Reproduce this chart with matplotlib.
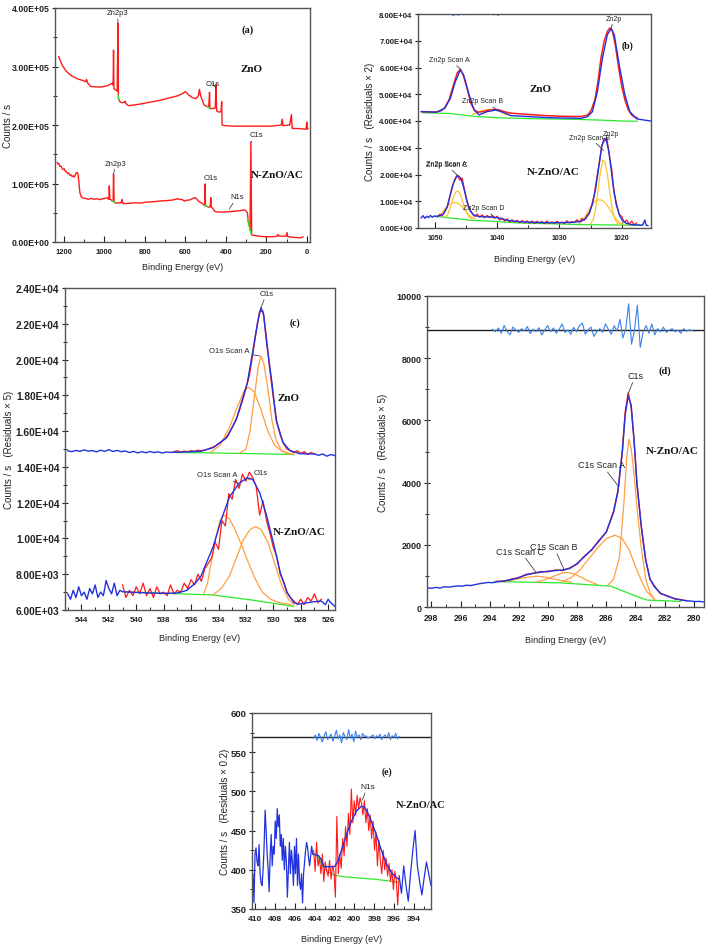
import numpy as np
import matplotlib
matplotlib.use('Agg')
import matplotlib.pyplot as plt
from matplotlib.ticker import FormatStrFormatter, MultipleLocator

SANS = ['Liberation Sans', 'DejaVu Sans']
SERIF = ['Liberation Serif', 'DejaVu Serif']
plt.rcParams['font.family'] = SANS
plt.rcParams['font.weight'] = 'bold'

RED = '#ff1a1a'
BLUE = '#2233dd'
GREEN = '#2ee82e'
ORANGE = '#ffa040'
YELLOW = '#ffc22e'
RESID = '#3b82e8'

# ---------------- (a) survey ----------------
zno_sv_ev = [1226, 1208, 1189, 1162, 1134, 1106, 1093, 1088, 1083, 1069,
             1042, 1014, 987, 968, 961, 957, 955, 953, 945, 937,
             933, 931, 924, 913, 902, 898, 895, 881, 858, 821,
             775, 729, 683, 637, 614, 600, 586, 568, 549, 536,
             531, 525, 517, 508, 494, 485, 481, 479, 467, 453,
             449, 446, 434, 424, 421, 419, 407, 361, 269, 177,
             126, 122, 118, 85, 77, 73, 48, 11, 4, 1,
             -2, -5]
zno_sv_cps = [3.17, 3.02, 2.92, 2.84, 2.79, 2.76, 2.74, 2.78, 2.72, 2.66,
              2.65, 2.65, 2.67, 2.70, 2.72, 2.68, 3.28, 2.62, 2.60, 2.58,
              3.74, 2.45, 2.40, 2.38, 2.39, 2.41, 2.37, 2.33, 2.34, 2.36,
              2.39, 2.42, 2.46, 2.50, 2.54, 2.57, 2.52, 2.47, 2.45, 2.50,
              2.61, 2.50, 2.43, 2.34, 2.32, 2.30, 2.56, 2.28, 2.28, 2.29,
              2.69, 2.24, 2.22, 2.23, 2.40, 2.00, 1.99, 1.98, 1.98, 1.98,
              2.00, 2.10, 1.99, 2.00, 2.18, 1.94, 1.94, 1.93, 1.93, 2.05,
              1.93, 1.94]
nac_sv_ev = [1233, 1229, 1224, 1220, 1215, 1209, 1204, 1198, 1193, 1187,
             1182, 1176, 1171, 1165, 1160, 1154, 1149, 1143, 1139, 1134,
             1130, 1127, 1121, 1114, 1105, 1093, 1079, 1065, 1051, 1037,
             1024, 1010, 996, 987, 982, 978, 976, 973, 968, 961,
             957, 955, 952, 945, 936, 927, 918, 913, 909, 899,
             886, 867, 844, 821, 798, 775, 752, 729, 706, 683,
             660, 637, 628, 619, 605, 591, 577, 563, 554, 545,
             536, 527, 517, 510, 505, 503, 501, 494, 485, 478,
             475, 472, 464, 457, 448, 434, 416, 398, 379, 361,
             342, 324, 310, 304, 299, 294, 290, 285, 281, 277,
             273, 267, 255, 241, 223, 209, 190, 172, 154, 147,
             142, 138, 121, 103, 98, 95, 80, 66, 48, 34,
             25, 20]
nac_sv_cps = [1.36, 1.33, 1.34, 1.29, 1.30, 1.26, 1.24, 1.25, 1.21, 1.20,
              1.17, 1.18, 1.14, 1.15, 1.12, 1.13, 1.11, 1.15, 1.18, 1.19,
              1.16, 1.05, 0.84, 0.77, 0.75, 0.745, 0.73, 0.745, 0.73, 0.74,
              0.725, 0.74, 0.745, 0.76, 0.74, 0.73, 0.96, 0.73, 0.725, 0.70,
              0.71, 1.16, 0.68, 0.665, 0.67, 0.665, 0.67, 0.73, 0.66, 0.655,
              0.66, 0.665, 0.67, 0.665, 0.68, 0.685, 0.69, 0.70, 0.705, 0.71,
              0.72, 0.74, 0.725, 0.73, 0.70, 0.715, 0.72, 0.745, 0.76, 0.74,
              0.70, 0.68, 0.66, 0.64, 0.62, 0.99, 0.62, 0.61, 0.595, 0.60,
              0.76, 0.60, 0.57, 0.53, 0.515, 0.515, 0.51, 0.515, 0.52, 0.525,
              0.53, 0.54, 0.55, 0.54, 0.52, 0.50, 0.36, 0.28, 0.20, 1.71,
              0.12, 0.115, 0.11, 0.10, 0.095, 0.09, 0.09, 0.09, 0.095, 0.10,
              0.13, 0.10, 0.10, 0.10, 0.16, 0.09, 0.085, 0.08, 0.075, 0.07,
              0.08, 0.09]
# short green background bits under the marked peaks
sv_bg_ev = [[931, 929], [490, 479], [959, 951], [504, 490], [294, 275]]
sv_bg_cps = [[2.50, 2.44], [2.31, 2.28], [0.70, 0.68], [0.63, 0.605], [0.40, 0.13]]

# ---------------- (b) Zn2p ----------------
zn_zno_red_ev = [1052, 1050, 1049, 1048.4, 1047.7, 1047, 1046.4, 1045.9, 1045.4, 1044.8,
                 1044.2, 1043.6, 1043, 1042.3, 1041.5, 1040.6, 1039.7, 1039, 1038, 1036,
                 1034, 1032, 1030, 1028, 1026.5, 1025.5, 1024.9, 1024.3, 1023.8, 1023.3,
                 1022.8, 1022.3, 1021.9, 1021.5, 1021.0, 1020.5, 1020.0, 1019.5, 1019.0, 1018.5,
                 1018, 1017.5]
zn_zno_red = [4.35, 4.33, 4.38, 4.50, 4.80, 5.35, 5.80, 5.93, 5.70, 5.20,
              4.65, 4.40, 4.33, 4.35, 4.40, 4.43, 4.42, 4.36, 4.30, 4.26,
              4.23, 4.20, 4.18, 4.17, 4.17, 4.22, 4.40, 4.80, 5.50, 6.40,
              7.00, 7.35, 7.48, 7.38, 6.80, 6.00, 5.30, 4.80, 4.45, 4.25,
              4.15, 4.12]
zn_zno_fit_ev = [1052.2, 1049.7, 1048.4, 1047.5, 1046.7, 1045.9, 1045.4, 1044.5, 1043.7, 1042.9,
                 1041.6, 1040.2, 1039.1, 1037.8, 1031.2, 1026.5, 1025.5, 1024.7, 1023.9, 1023.1,
                 1022.3, 1021.7, 1021.2, 1020.4, 1019.5, 1018.7, 1017.6, 1015.4]
zn_zno_fit = [4.35, 4.33, 4.48, 4.85, 5.48, 5.91, 5.73, 4.98, 4.41, 4.23,
              4.35, 4.41, 4.33, 4.20, 4.12, 4.10, 4.16, 4.35, 5.10, 6.35,
              7.23, 7.45, 7.23, 6.10, 4.98, 4.35, 4.08, 4.00]
zn_zno_scanb_ev = [1044.0, 1043.3, 1042.5, 1041.5, 1040.5, 1039.5, 1038.5]
zn_zno_scanb = [4.25, 4.30, 4.38, 4.42, 4.43, 4.35, 4.22]
zn_zno_bg_ev = [1052, 1047.5, 1044, 1040, 1035, 1027, 1023, 1020, 1017.5]
zn_zno_bg = [4.31, 4.28, 4.18, 4.12, 4.09, 4.06, 4.03, 4.00, 3.99]

zn_nac_red_ev = [1049.6, 1049.2, 1048.8, 1048.4, 1048.0, 1047.6, 1047.2, 1046.8, 1046.4, 1046.0,
                 1045.6, 1045.2, 1044.8, 1044.4, 1044.0, 1043.6, 1043.2, 1042.8, 1042.4, 1042.0,
                 1041.6, 1041.2, 1040.8, 1040.4, 1040.0, 1039.6, 1039.2, 1038.8, 1038.4, 1038.0,
                 1037.6, 1037.2, 1036.8, 1036.4, 1036.0, 1035.6, 1035.2, 1034.8, 1034.4, 1034.0,
                 1033.6, 1033.2, 1032.8, 1032.4, 1032.0, 1031.6, 1031.2, 1030.8, 1030.4, 1030.0,
                 1029.6, 1029.2, 1028.8, 1028.4, 1028.0, 1027.6, 1027.2, 1026.8, 1026.4, 1026.0,
                 1025.6, 1025.2, 1024.8, 1024.4, 1024.0, 1023.6, 1023.2, 1022.8, 1022.4, 1022.0,
                 1021.6, 1021.2, 1020.8, 1020.4, 1020.0, 1019.6, 1019.2, 1018.8, 1018.4, 1018.0,
                 1017.6]
zn_nac_red = [0.42, 0.51, 0.46, 0.63, 0.78, 1.18, 1.56, 1.82, 1.98, 1.79,
              1.86, 1.38, 0.99, 0.68, 0.56, 0.43, 0.52, 0.40, 0.49, 0.38,
              0.47, 0.39, 0.46, 0.36, 0.44, 0.30, 0.37, 0.26, 0.34, 0.23,
              0.31, 0.22, 0.29, 0.20, 0.28, 0.19, 0.27, 0.18, 0.26, 0.17,
              0.25, 0.19, 0.24, 0.16, 0.26, 0.18, 0.23, 0.17, 0.25, 0.19,
              0.22, 0.16, 0.27, 0.19, 0.24, 0.20, 0.31, 0.22, 0.36, 0.29,
              0.46, 0.58, 0.87, 1.25, 1.88, 2.45, 3.10, 3.25, 3.38, 2.75,
              2.18, 1.30, 0.88, 0.51, 0.43, 0.21, 0.30, 0.14, 0.26, 0.12,
              0.19]
zn_nac_fit_ev = [1052.2, 1051.9, 1051.6, 1051.3, 1051.0, 1050.7, 1050.4, 1050.1, 1049.8, 1049.5,
                 1049.0, 1048.5, 1048.0, 1047.5, 1047.0, 1046.5, 1046.2, 1045.8, 1045.3, 1044.8,
                 1044.3, 1043.8, 1043.0, 1042.0, 1041.0, 1040.0, 1039.0, 1038.0, 1036.0, 1034.0,
                 1032.0, 1030.0, 1028.0, 1026.5, 1025.8, 1025.2, 1024.7, 1024.2, 1023.7, 1023.2,
                 1022.8, 1022.5, 1022.1, 1021.7, 1021.3, 1020.9, 1020.4, 1019.9, 1019.3, 1018.5,
                 1017.5, 1017.2, 1016.9, 1016.6, 1016.3, 1016.1, 1015.8]
zn_nac_fit = [0.38, 0.46, 0.36, 0.44, 0.39, 0.47, 0.40, 0.45, 0.43, 0.45,
              0.47, 0.56, 0.80, 1.25, 1.68, 1.93, 1.95, 1.85, 1.45, 0.95,
              0.63, 0.49, 0.43, 0.42, 0.41, 0.39, 0.33, 0.27, 0.23, 0.21,
              0.20, 0.20, 0.21, 0.25, 0.35, 0.55, 0.90, 1.45, 2.25, 3.05,
              3.35, 3.30, 2.90, 2.20, 1.45, 0.90, 0.50, 0.28, 0.18, 0.13,
              0.11, 0.12, 0.10, 0.13, 0.30, 0.11, 0.09]
zn_nac_comp_ev = [
    [1048.2, 1047.8, 1047.4, 1047.0, 1046.6, 1046.3, 1046.0, 1045.6, 1045.2, 1044.8, 1044.4, 1044.0],
    [1049.5, 1049.0, 1048.5, 1048.0, 1047.5, 1047.0, 1046.5, 1046.0, 1045.5, 1045.0, 1044.5, 1044.0, 1043.5],
    [1025.0, 1024.6, 1024.2, 1023.8, 1023.4, 1023.0, 1022.7, 1022.3, 1021.9, 1021.5, 1021.1, 1020.7, 1020.3],
    [1026.8, 1026.2, 1025.6, 1025.0, 1024.4, 1023.8, 1023.2, 1022.6, 1022.0, 1021.4, 1020.8, 1020.2, 1019.6],
]
zn_nac_comp = [
    [0.42, 0.56, 0.85, 1.18, 1.36, 1.38, 1.30, 1.05, 0.74, 0.53, 0.40, 0.36],
    [0.44, 0.53, 0.68, 0.83, 0.92, 0.95, 0.94, 0.88, 0.76, 0.61, 0.47, 0.38, 0.34],
    [0.16, 0.30, 0.70, 1.40, 2.15, 2.53, 2.48, 2.00, 1.30, 0.70, 0.33, 0.18, 0.14],
    [0.18, 0.32, 0.53, 0.78, 0.98, 1.06, 1.04, 0.93, 0.73, 0.50, 0.30, 0.18, 0.13],
]
zn_nac_bg_ev = [1050.0, 1047.5, 1044.3, 1040.5, 1036.7, 1030, 1025.8, 1020, 1016.6]
zn_nac_bg = [0.44, 0.375, 0.29, 0.25, 0.19, 0.15, 0.125, 0.11, 0.10]
zn_resid_ev = [1048.0, 1047.5, 1047.0, 1046.6, 1046.2, 1045.8, 1045.3, 1044.8, 1044.2, 1041.0,
               1040.6, 1040.2, 1039.8, 1039.4, 1038.8, 1023.0, 1022.6, 1022.2, 1021.8, 1021.4]
zn_resid = [8.15, 8.05, 7.93, 8.08, 7.95, 8.10, 7.97, 8.12, 8.20, 8.12,
            7.96, 8.05, 7.94, 8.10, 8.20, 8.15, 7.97, 8.10, 7.96, 8.15]

# ---------------- (c) O1s ----------------
o_zno_blue_ev = [545.0, 544.7, 544.4, 544.1, 543.8, 543.5, 543.2, 542.9, 542.6, 542.3,
                 542.0, 541.7, 541.4, 541.1, 540.8, 540.5, 540.2, 539.9, 539.6, 539.3,
                 539.0, 538.7, 538.4, 538.1, 537.8, 537.5, 535.3, 534.4, 533.4, 532.7,
                 531.9, 531.5, 531.1, 530.9, 530.7, 530.5, 530.1, 529.8, 529.3, 528.8,
                 528.1, 527.0, 526.7, 526.4, 526.1, 525.8, 525.5]
o_zno_blue = [14900, 14850, 14920, 14870, 14950, 14880, 14910, 14840, 14930, 14870,
              14960, 14860, 14920, 14850, 14890, 14800, 14870, 14780, 14850, 14790,
              14860, 14800, 14840, 14780, 14830, 14810, 14870, 15070, 15630, 16650,
              18690, 20470, 22250, 22900, 22500, 21000, 18700, 16650, 15370, 14920,
              14740, 14720, 14650, 14720, 14600, 14690, 14630]
o_zno_red_ev = [537.25, 537.0, 536.75, 536.5, 536.25, 536.0, 535.75, 535.5, 535.25, 535.0,
                534.75, 534.5, 534.25, 534.0, 533.75, 533.5, 533.25, 533.0, 532.75, 532.5,
                532.25, 532.0, 531.75, 531.5, 531.25, 531.0, 530.75, 530.5, 530.25, 530.0,
                529.75, 529.5, 529.25, 529.0, 528.75, 528.5, 528.25, 528.0, 527.75, 527.5,
                527.25, 527.0]
o_zno_red = [14850, 14900, 14820, 14880, 14850, 14900, 14870, 14930, 14900, 14950,
             15000, 15080, 15150, 15300, 15420, 15600, 15850, 16200, 16600, 17100,
             17700, 18400, 19100, 20300, 21600, 22700, 22700, 21200, 19400, 17900,
             16500, 15800, 15300, 15000, 14900, 14800, 14900, 14750, 14850, 14700,
             14800, 14720]
o_zno_comp_ev = [
    [534.6, 533.9, 533.2, 532.6, 532.1, 531.8, 531.4, 530.9, 530.4, 529.9, 529.4, 528.8],
    [532.5, 532.0, 531.7, 531.4, 531.1, 530.9, 530.7, 530.4, 530.1, 529.8, 529.4, 529.0, 528.5],
]
o_zno_comp = [
    [14800, 15200, 16200, 17400, 18300, 18450, 18200, 17200, 16000, 15200, 14900, 14750],
    [14750, 15000, 16000, 17800, 19600, 20200, 19800, 18400, 16600, 15500, 14900, 14750, 14700],
]
o_zno_bg_ev = [537.4, 534.5, 531.5, 528.5]
o_zno_bg = [14810, 14780, 14740, 14690]

o_nac_blue_ev = [545.0, 544.8, 544.6, 544.4, 544.2, 544.0, 543.8, 543.6, 543.4, 543.2,
                 543.0, 542.8, 542.6, 542.4, 542.2, 542.0, 541.8, 541.6, 541.4, 541.2,
                 541.0, 540.0, 539.0, 538.0, 537.0, 536.3, 535.7, 535.3, 534.9, 534.4,
                 533.8, 533.2, 532.5, 531.9, 531.5, 531.0, 530.5, 530.0, 529.5, 529.0,
                 528.5, 528.1, 527.1, 526.5, 526.2, 526.0, 525.8, 525.5]
o_nac_blue = [6900, 6600, 7100, 6700, 7300, 6800, 7000, 6600, 7200, 6900,
              7400, 6700, 7000, 6800, 7650, 7200, 6900, 7500, 6800, 7100,
              7020, 6980, 6950, 6930, 6950, 7100, 7500, 7860, 8600, 9520,
              11040, 12320, 13080, 13390, 13290, 12570, 11300, 9770, 8110, 6970,
              6410, 6330, 6460, 6500, 6300, 6600, 6400, 6200]
o_nac_red_ev = [541.0, 540.75, 540.5, 540.25, 540.0, 539.75, 539.5, 539.25, 539.0, 538.75,
                538.5, 538.25, 538.0, 537.75, 537.5, 537.25, 537.0, 536.75, 536.5, 536.25,
                536.0, 535.75, 535.5, 535.25, 535.0, 534.75, 534.5, 534.25, 534.0, 533.75,
                533.5, 533.25, 533.0, 532.75, 532.5, 532.25, 532.0, 531.75, 531.5, 531.25,
                531.0, 530.75, 530.5, 530.25, 530.0, 529.75, 529.5, 529.25, 529.0, 528.75,
                528.5, 528.25, 528.0, 527.75, 527.5, 527.25, 527.0, 526.75, 526.5]
o_nac_red = [7400, 6700, 7100, 6800, 7300, 6900, 7500, 6800, 7200, 6700,
             7300, 6900, 7000, 6800, 7400, 6900, 7100, 7000, 7500, 7200,
             7700, 7400, 8000, 7600, 8300, 8600, 8900, 9800, 9400, 11000,
             10700, 12500, 12200, 13300, 12800, 13600, 13200, 13700, 13400, 12900,
             11300, 12100, 11000, 10300, 9500, 9000, 8000, 7600, 7000, 6700,
             6500, 6300, 6600, 6300, 6700, 6500, 6900, 6400, 6600]
o_nac_comp_ev = [
    [535.1, 534.8, 534.5, 534.2, 533.9, 533.6, 533.2, 532.8, 532.3, 531.8, 531.3, 530.8, 530.2, 529.5, 528.7],
    [534.4, 533.8, 533.2, 532.7, 532.2, 531.7, 531.3, 530.9, 530.4, 529.9, 529.4, 528.9, 528.5],
]
o_nac_comp = [
    [6850, 7500, 8800, 10000, 11000, 11300, 11100, 10500, 9600, 8600, 7700, 7000, 6600, 6400, 6300],
    [6850, 7200, 7900, 8900, 9900, 10500, 10660, 10500, 9800, 8600, 7400, 6600, 6300],
]
o_nac_bg_ev = [540.9, 537.4, 534.4, 531.5, 528.5]
o_nac_bg = [7020, 6920, 6840, 6550, 6200]

# ---------------- (d) C1s ----------------
c_blue_ev = [298.3, 298.0, 297.7, 297.4, 297.1, 296.8, 296.5, 296.2, 295.9, 295.6,
             295.3, 295.0, 294.7, 294.4, 294.1, 293.8, 293.5, 293.0, 292.5, 292.0,
             291.5, 291.0, 290.5, 290.0, 289.5, 289.0, 288.5, 288.0, 287.5, 287.0,
             286.5, 286.0, 285.5, 285.2, 284.9, 284.7, 284.5, 284.3, 284.1, 283.9,
             283.6, 283.3, 283.0, 282.7, 282.3, 281.8, 281.3, 280.8, 280.5, 280.2,
             279.9, 279.6, 279.3]
c_blue = [620, 600, 630, 610, 650, 640, 660, 680, 670, 700,
          690, 720, 750, 770, 790, 780, 810, 840, 880, 950,
          1030, 1090, 1120, 1150, 1170, 1190, 1240, 1400, 1620, 1850,
          2120, 2420, 3050, 3750, 5000, 6200, 6780, 6500, 5400, 3950,
          2600, 1500, 900, 650, 450, 340, 270, 220, 200, 190,
          175, 180, 160]
c_red_ev = [293.5, 293.0, 292.5, 292.0, 291.5, 291.0, 290.5, 290.0, 289.5, 289.0,
            288.5, 288.0, 287.5, 287.0, 286.5, 286.0, 285.5, 285.2, 284.9, 284.7,
            284.5, 284.3, 284.1, 283.9, 283.6, 283.3, 283.0, 282.7, 282.3, 281.8,
            281.3, 280.8, 280.5]
c_red = [830, 820, 900, 940, 1050, 1080, 1140, 1130, 1190, 1170,
         1260, 1380, 1640, 1830, 2150, 2400, 3080, 3720, 5050, 6300,
         6880, 6450, 5350, 3990, 2560, 1530, 880, 680, 430, 360,
         260, 230, 200]
c_comp_ev = [
    [285.9, 285.5, 285.1, 284.8, 284.6, 284.45, 284.3, 284.1, 283.9, 283.6, 283.3, 283.0, 282.7],
    [289.0, 288.4, 287.8, 287.2, 286.6, 286.0, 285.4, 284.9, 284.4, 284.0, 283.6, 283.2, 282.7],
    [293.2, 292.4, 291.6, 290.8, 290.2, 289.6, 289.0, 288.4],
    [290.8, 290.2, 289.6, 289.0, 288.6, 288.2, 287.7, 287.2, 286.6],
]
c_comp = [
    [700, 900, 1600, 3300, 4800, 5390, 5100, 4300, 3200, 1900, 900, 450, 250],
    [820, 950, 1200, 1550, 1900, 2200, 2310, 2200, 1800, 1300, 850, 480, 250],
    [830, 870, 940, 990, 960, 900, 840, 800],
    [800, 880, 990, 1100, 1110, 1060, 950, 830, 720],
]
c_bg_ev = [293.7, 289.1, 285.7, 284.1, 283.2, 280.9]
c_bg = [820, 775, 670, 372, 223, 179]
c_resid_range = (293.8, 280.1)
c_resid = [8930, 8850, 8970, 8800, 9050, 8870, 8750, 9000, 8910, 8830,
           8950, 8870, 9020, 8790, 8930, 8850, 8980, 8750, 8910, 9050,
           8850, 8970, 8800, 8930, 9100, 8830, 8910, 8770, 8990, 8850,
           9050, 9130, 8770, 8910, 9000, 8700, 8850, 8950, 8830, 9100,
           8930, 8770, 9050, 8870, 9250, 8650, 8950, 9750, 8450, 8900,
           9700, 8350, 8850, 9050, 8800, 9100, 8750, 8950, 8850, 9000,
           8830, 8900, 8950, 8850, 8910, 8800, 8950, 8870, 8910, 8890]
c_resid_zero = 8900

# ---------------- (e) N1s ----------------
n_left_range = (410.2, 404.2)
n_left = [395, 358, 420, 428, 410, 405, 432, 395, 383, 380,
          400, 430, 476, 450, 420, 400, 372, 420, 445, 405,
          430, 420, 462, 440, 478, 455, 470, 430, 445, 412,
          440, 400, 430, 410, 365, 400, 435, 395, 425, 410,
          380, 430, 395, 440, 380, 420, 385, 375, 395, 358,
          395, 410, 425, 435, 428, 415, 405, 418, 430, 420]
n_red_range = (404.1, 395.5)
n_red = [425, 398, 435, 405, 415, 395, 420, 385, 410, 398,
         392, 412, 388, 405, 398, 365, 468, 395, 420, 402,
         440, 418, 455, 430, 472, 445, 503, 460, 488, 470,
         495, 478, 492, 485, 470, 488, 460, 478, 450, 470,
         440, 462, 425, 448, 405, 438, 412, 395, 425, 400,
         415, 392, 408, 385, 400, 375, 398, 388, 355, 392]
n_right_range = (395.5, 392.3)
n_right = [392, 370, 405, 380, 360, 395, 425, 450, 405, 385, 368, 390, 410, 395, 380]
n_fit_ev = [404.1, 403.6, 403.3, 403.05, 402.8, 402.0, 401.7, 401.3, 400.8, 400.3,
            399.8, 399.3, 399.0, 398.7, 398.3, 397.8, 397.3, 396.8, 396.3, 395.8, 395.5]
n_fit = [420, 418, 412, 404, 404, 404, 410, 425, 445, 462,
         475, 481, 480, 474, 462, 445, 425, 408, 397, 390, 388]
n_bg_ev = [404.1, 403.6, 403.2, 402.8, 402.0, 401.0, 400.0, 398.0, 396.0, 395.5]
n_bg = [420, 416, 404, 399, 393, 391, 390, 388, 385, 384]
n_resid = [568, 572, 565, 574, 569, 563, 571, 576, 566, 570,
           573, 564, 570, 578, 567, 572, 562, 575, 570, 566,
           579, 568, 573, 563, 577, 569, 572, 566, 574, 570,
           571, 568, 569, 570, 572, 567, 571, 569, 573, 566,
           570, 572, 568, 575, 566, 571, 569, 574, 567, 570]
n_resid_zero = 570

W, H = 706, 945


def px_axes(fig, left, top, right, bottom):
    return fig.add_axes([left / W, 1 - bottom / H, (right - left) / W, (bottom - top) / H])


def style(ax, xlim, ylim, xmaj, xmin, ymaj, ymin, yfmt=None, ylabel='Counts / s',
          ylab_x=-0.18, xlab_y=-0.11, tick_size=6.5, xtick_size=6):
    ax.set_xlim(*xlim)
    ax.set_ylim(*ylim)
    ax.xaxis.set_major_locator(MultipleLocator(xmaj))
    ax.xaxis.set_minor_locator(MultipleLocator(xmin))
    ax.yaxis.set_major_locator(MultipleLocator(ymaj))
    if ymin:
        ax.yaxis.set_minor_locator(MultipleLocator(ymin))
    if yfmt:
        ax.yaxis.set_major_formatter(FormatStrFormatter(yfmt))
    ax.tick_params(axis='y', which='major', direction='inout', length=5, width=0.8,
                   labelsize=tick_size, pad=1.5, colors='#222')
    ax.tick_params(axis='y', which='minor', direction='inout', length=3, width=0.7, colors='#222')
    ax.tick_params(axis='x', which='major', direction='in', length=4, width=0.8,
                   labelsize=xtick_size, pad=4, colors='#222')
    ax.tick_params(axis='x', which='minor', direction='in', length=2.5, width=0.7, colors='#222')
    for s in ax.spines.values():
        s.set_color('#555')
        s.set_linewidth(1.0)
    ax.set_xlabel('Binding Energy (eV)', family=SANS, fontweight='normal', fontsize=6.5, color='#222')
    ax.xaxis.set_label_coords(0.5, xlab_y)
    ax.set_ylabel(ylabel, family=SANS, fontweight='normal', fontsize=7, color='#222')
    ax.yaxis.set_label_coords(ylab_x, 0.5)


def tag(ax, text, xytext, xy=None, size=5.5):
    if xy is None:
        ax.text(*xytext, text, family=SANS, fontweight='normal', fontsize=size,
                ha='center', va='center', color='#222')
    else:
        ax.annotate(text, xy=xy, xytext=xytext, family=SANS, fontweight='normal',
                    fontsize=size, ha='center', va='center', color='#222',
                    arrowprops=dict(arrowstyle='-', color='#444', lw=0.6,
                                    shrinkA=0, shrinkB=0))


def bold(ax, text, xy, size=8, ha='center'):
    ax.text(*xy, text, family=SERIF, fontweight='bold', fontsize=size,
            ha=ha, va='center', color='#111', clip_on=False)


fig = plt.figure(figsize=(W / 100, H / 100), dpi=100)

# (a)
ax = px_axes(fig, 55, 9, 310, 243)
ax.plot(zno_sv_ev, np.array(zno_sv_cps) * 1e5, color=RED, lw=1.0)
ax.plot(nac_sv_ev, np.array(nac_sv_cps) * 1e5, color=RED, lw=1.0)
for ev, cps in zip(sv_bg_ev, sv_bg_cps):
    ax.plot(ev, np.array(cps) * 1e5, color=GREEN, lw=1.0)
style(ax, (1244, -15), (0, 4e5), 200, 100, 1e5, 5e4, yfmt='%.2E', ylab_x=-0.165, xlab_y=-0.085,
      tick_size=6.3, xtick_size=5.5)
tag(ax, 'Zn2p3', (935, 3.92e5), (933, 3.74e5))
tag(ax, 'O1s', (464, 2.71e5), (449, 2.62e5))
tag(ax, 'C1s', (247, 1.83e5), (277, 1.70e5))
tag(ax, 'Zn2p3', (943, 1.35e5), (955, 1.16e5))
tag(ax, 'O1s', (474, 1.10e5), (503, 0.98e5))
tag(ax, 'N1s', (346, 0.77e5), (384, 0.56e5))
bold(ax, '(a)', (291, 3.64e5), size=7.5)
bold(ax, 'ZnO', (272, 2.96e5))
bold(ax, 'N-ZnO/AC', (148, 1.15e5))

# (b)
ax = px_axes(fig, 418, 15, 651, 229)
ax.plot(zn_resid_ev, np.array(zn_resid) * 1e4, color=RESID, lw=0.8)
ax.plot(zn_zno_bg_ev, np.array(zn_zno_bg) * 1e4, color=GREEN, lw=0.9)
ax.plot(zn_zno_scanb_ev, np.array(zn_zno_scanb) * 1e4, color=YELLOW, lw=0.9)
ax.plot(zn_zno_red_ev, np.array(zn_zno_red) * 1e4, color=RED, lw=1.1)
ax.plot(zn_zno_fit_ev, np.array(zn_zno_fit) * 1e4, color=BLUE, lw=1.0)
ax.plot(zn_nac_bg_ev, np.array(zn_nac_bg) * 1e4, color=GREEN, lw=0.9)
for ev, cps in zip(zn_nac_comp_ev, zn_nac_comp):
    ax.plot(ev, np.array(cps) * 1e4, color=YELLOW, lw=0.9)
ax.plot(zn_nac_red_ev, np.array(zn_nac_red) * 1e4, color=RED, lw=0.9)
ax.plot(zn_nac_fit_ev, np.array(zn_nac_fit) * 1e4, color=BLUE, lw=1.0)
style(ax, (1052.7, 1015.3), (0, 8e4), 10, 5, 1e4, None, yfmt='%.2E',
      ylabel='Counts / s   (Residuals \u00d7 2)', ylab_x=-0.185, xlab_y=-0.12, tick_size=5.6, xtick_size=5)
tag(ax, 'Zn2p', (1021.3, 7.85e4), (1021.7, 7.45e4), size=5)
tag(ax, 'Zn2p Scan A', (1047.6, 6.3e4), (1045.8, 5.92e4), size=5)
tag(ax, 'Zn2p Scan B', (1042.4, 4.75e4), (1040.0, 4.42e4), size=5)
tag(ax, 'Zn2p', (1021.8, 3.52e4), (1022.6, 3.28e4), size=5)
tag(ax, 'Zn2p Scan B', (1025.2, 3.4e4), (1022.9, 2.9e4), size=5)
tag(ax, 'Zn2p Scan A', (1048.2, 2.4e4), (1046.3, 1.95e4), size=5)
tag(ax, 'Zn2p Scan C', (1048.1, 2.37e4), size=5)
tag(ax, 'Zn2p Scan D', (1042.1, 0.76e4), (1040.5, 0.42e4), size=5)
bold(ax, '(b)', (1019.0, 6.85e4), size=7)
bold(ax, 'ZnO', (1033.1, 5.22e4))
bold(ax, 'N-ZnO/AC', (1031.0, 2.1e4))

# (c)
ax = px_axes(fig, 65, 289, 335, 611)
ax.plot(o_zno_bg_ev, o_zno_bg, color=GREEN, lw=0.9)
for ev, cps in zip(o_zno_comp_ev, o_zno_comp):
    ax.plot(ev, cps, color=ORANGE, lw=0.9)
ax.plot(o_zno_red_ev, o_zno_red, color=RED, lw=1.0)
ax.plot(o_zno_blue_ev, o_zno_blue, color=BLUE, lw=1.0)
ax.plot(o_nac_bg_ev, o_nac_bg, color=GREEN, lw=0.9)
for ev, cps in zip(o_nac_comp_ev, o_nac_comp):
    ax.plot(ev, cps, color=ORANGE, lw=0.9)
ax.plot(o_nac_red_ev, o_nac_red, color=RED, lw=0.9)
ax.plot(o_nac_blue_ev, o_nac_blue, color=BLUE, lw=1.0)
style(ax, (545.2, 525.5), (6000, 24000), 2, 1, 2000, 1000, yfmt='%.2E',
      ylabel='Counts / s   (Residuals \u00d7 5)', ylab_x=-0.19, xlab_y=-0.07, tick_size=7.3, xtick_size=5.8)
tag(ax, 'O1s', (530.5, 2.37e4), (530.9, 2.29e4))
tag(ax, 'O1s Scan A', (533.2, 2.05e4), (531.0, 2.02e4))
tag(ax, 'O1s Scan A', (534.1, 1.355e4), (532.6, 1.31e4))
tag(ax, 'O1s', (530.9, 1.37e4), (531.8, 1.33e4))
bold(ax, '(c)', (528.4, 2.21e4), size=7)
bold(ax, 'ZnO', (528.9, 1.79e4))
bold(ax, 'N-ZnO/AC', (528.1, 1.04e4))

# (d)
ax = px_axes(fig, 427, 297, 704, 608)
ax.axhline(c_resid_zero, color='#222', lw=1.0)
ax.plot(np.linspace(*c_resid_range, len(c_resid)), c_resid, color=RESID, lw=0.8)
ax.plot(c_bg_ev, c_bg, color=GREEN, lw=0.9)
for ev, cps in zip(c_comp_ev, c_comp):
    ax.plot(ev, cps, color=ORANGE, lw=0.9)
ax.plot(c_red_ev, c_red, color=RED, lw=1.0)
ax.plot(c_blue_ev, c_blue, color=BLUE, lw=1.0)
style(ax, (298.3, 279.3), (0, 10000), 2, 1, 2000, 1000,
      ylabel='Counts / s   (Residuals \u00d7 5)', ylab_x=-0.14, xlab_y=-0.09, tick_size=6.5, xtick_size=6.2)
tag(ax, 'C1s', (284.0, 7450), (284.55, 6800), size=6.5)
tag(ax, 'C1s Scan A', (286.3, 4570), (285.2, 3900), size=6.5)
tag(ax, 'C1s Scan B', (289.6, 1940), (288.9, 1200), size=6.5)
tag(ax, 'C1s Scan C', (291.9, 1800), (290.8, 1100), size=6.5)
bold(ax, '(d)', (282.0, 7600), size=7.5)
bold(ax, 'N-ZnO/AC', (281.5, 5020))

# (e)
ax = px_axes(fig, 252, 714, 431, 910)
ax.axhline(n_resid_zero, color='#222', lw=1.0)
ax.plot(np.linspace(*n_red_range, len(n_resid)), n_resid, color=RESID, lw=0.8)
ax.plot(np.linspace(*n_left_range, len(n_left)), n_left, color=BLUE, lw=0.9)
ax.plot(np.linspace(*n_right_range, len(n_right)), n_right, color=BLUE, lw=0.9)
ax.plot(n_bg_ev, n_bg, color=GREEN, lw=0.9)
ax.plot(np.linspace(*n_red_range, len(n_red)), n_red, color=RED, lw=0.8)
ax.plot(n_fit_ev, n_fit, color=BLUE, lw=1.0)
style(ax, (410.3, 392.3), (350, 600), 2, 1, 50, 25,
      ylabel='Counts / s   (Residuals \u00d7 0.2)', ylab_x=-0.125, xlab_y=-0.13, tick_size=6.8, xtick_size=6)
tag(ax, 'N1s', (398.7, 506), (399.2, 489), size=6)
bold(ax, '(e)', (396.7, 526), size=7)
bold(ax, 'N-ZnO/AC', (395.8, 483), ha='left', size=7.5)

fig.savefig('out.png', dpi=100)
